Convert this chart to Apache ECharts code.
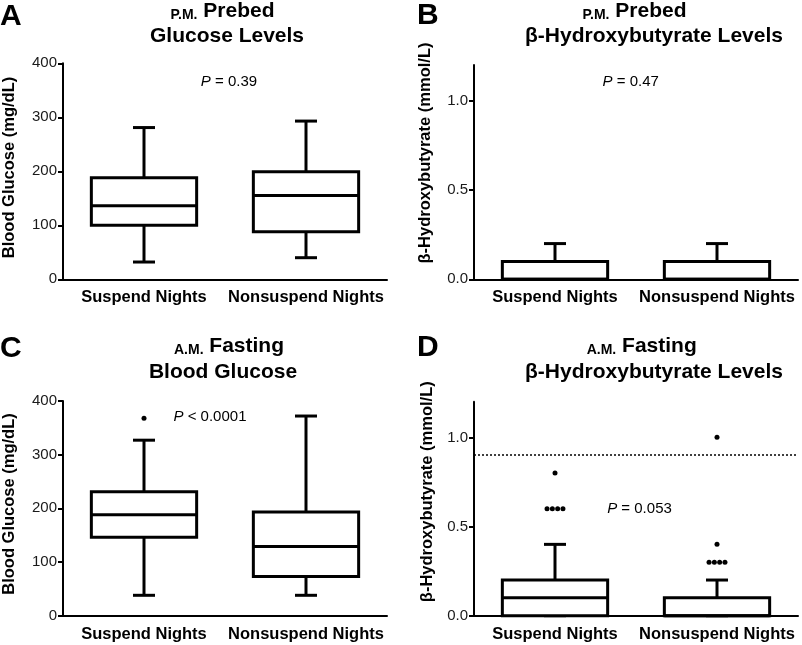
<!DOCTYPE html>
<html><head><meta charset="utf-8">
<script src="https://cdn.jsdelivr.net/npm/echarts@6/dist/echarts.min.js"></script>
<style>html,body{margin:0;padding:0;background:#fff}#c{width:802px;height:645px}</style>
</head><body><div id="c"></div>
<script>
// ---- data ----
const categories = ['Suspend Nights', 'Nonsuspend Nights'];
// each box: [min, Q1, median, Q3, max]
const boxA = [[32, 100, 136, 188, 281], [40, 88, 155, 199, 293]];
const boxB = [[0, 0, 0, 0.1, 0.2], [0, 0, 0, 0.1, 0.2]];
const boxC = [[38, 146, 188, 231, 327], [38, 73, 129, 193, 372]];
const boxD = [[0, 0, 0.1, 0.2, 0.4], [0, 0, 0, 0.1, 0.2]];
const outliersC = [[368], []];
const outliersD = [[0.8, 0.6, 0.6, 0.6, 0.6], [1.0, 0.4, 0.3, 0.3, 0.3, 0.3]];
const glucoseTicks = [0, 100, 200, 300, 400];
const bhbTicks = [0, 0.5, 1.0];
const thresholdD = 0.9;
const pLabels = ['= 0.39', '= 0.47', '< 0.0001', '= 0.053'];

const FF = '"Liberation Sans", Arial, Helvetica, sans-serif';
const grids = [
  {left: 63, top: 63.3, width: 324, height: 216},
  {left: 474, top: 65, width: 324, height: 214.3},
  {left: 63, top: 401, width: 324, height: 214.7},
  {left: 474, top: 401.7, width: 324, height: 214}
].map(g => Object.assign({outerBoundsMode: 'none', containLabel: false}, g));

function xAxisFor(i) {
  return {
    type: 'category', gridIndex: i, data: categories,
    axisLine: {lineStyle: {color: '#000', width: 2}},
    axisTick: {alignWithLabel: true, interval: 0, length: 5, lineStyle: {color: '#000', width: 2}},
    axisLabel: {color: '#000', fontSize: 16.5, fontWeight: 'bold', fontFamily: FF, margin: 10,
      interval: 0, hideOverlap: false},
    splitLine: {show: false}
  };
}
function yAxisFor(i, glucose) {
  const ticks = glucose ? glucoseTicks : bhbTicks;
  return {
    type: 'value', gridIndex: i, min: 0, max: glucose ? 400 : 1.2,
    axisLine: {show: true, lineStyle: {color: '#000', width: 2}},
    axisTick: {show: true, length: 5, lineStyle: {color: '#000', width: 2}, customValues: ticks},
    axisLabel: {color: '#1a1a1a', fontSize: 15, fontFamily: FF, margin: 6, customValues: ticks,
      formatter: v => glucose ? String(v) : v.toFixed(1)},
    splitLine: {show: false}
  };
}

function boxRender(params, api) {
  const c = api.value(0);
  const pts = [1, 2, 3, 4, 5].map(k => api.coord([c, api.value(k)]));
  const cx = pts[0][0];
  const y = pts.map(p => p[1]);
  const bw = api.size([1, 0])[0] * 0.65;
  const cap = 22;
  const st = {stroke: '#000', lineWidth: 3, fill: 'none'};
  const L = (x1, y1, x2, y2) => ({type: 'line', shape: {x1, y1, x2, y2}, style: st});
  return {type: 'group', children: [
    L(cx, y[3], cx, y[4]), L(cx - cap / 2, y[4], cx + cap / 2, y[4]),
    L(cx, y[1], cx, y[0]), L(cx - cap / 2, y[0], cx + cap / 2, y[0]),
    {type: 'rect', shape: {x: cx - bw / 2, y: y[3], width: bw, height: y[1] - y[3]},
      style: {stroke: '#000', lineWidth: 3, fill: '#fff'}},
    L(cx - bw / 2, y[2], cx + bw / 2, y[2])
  ]};
}
function boxSeries(i, boxes) {
  return {
    type: 'custom', xAxisIndex: i, yAxisIndex: i, renderItem: boxRender,
    encode: {x: 0, y: [1, 2, 3, 4, 5]},
    data: boxes.map((b, k) => [k].concat(b)), z: 2
  };
}
function outlierSeries(i, groups, extra) {
  const data = [];
  const gap = 5.3;
  groups.forEach((vals, k) => {
    const counts = {};
    vals.forEach(v => { counts[v] = (counts[v] || 0) + 1; });
    const seen = {};
    vals.forEach(v => {
      const n = counts[v];
      const idx = seen[v] || 0; seen[v] = idx + 1;
      data.push({value: [k, v], symbolOffset: [(idx - (n - 1) / 2) * gap, 0]});
    });
  });
  return Object.assign({
    type: 'scatter', xAxisIndex: i, yAxisIndex: i, symbol: 'circle', symbolSize: 5,
    itemStyle: {color: '#000', opacity: 1}, data: data, z: 3, silent: true
  }, extra || {});
}

function txt(x, y, text, size, weight, extra) {
  return Object.assign({type: 'text', x: x, y: y, style: {
    text: text, fontSize: size, fontWeight: weight || 'normal', fontFamily: FF, fill: '#000',
    align: 'center', verticalAlign: 'middle'
  }}, extra || {});
}
function richTitle(x, y, sc, rest) {
  return {type: 'text', x: x, y: y, style: {
    text: '{sc|' + sc + '} ' + rest, fontSize: 21, fontWeight: 'bold', fontFamily: FF, fill: '#000',
    align: 'center', verticalAlign: 'middle',
    rich: {sc: {fontSize: 14, fontWeight: 'bold', fontFamily: FF, fill: '#000', verticalAlign: 'bottom'}}
  }};
}
function pText(x, y, val) {
  return {type: 'text', x: x, y: y, style: {
    text: '{i|P} ' + val, fontSize: 15, fontFamily: FF, fill: '#000',
    align: 'center', verticalAlign: 'middle',
    rich: {i: {fontSize: 15, fontStyle: 'italic', fontFamily: FF, fill: '#000'}}
  }};
}
function panelLabel(x, y, t) {
  return {type: 'text', x: x, y: y, style: {text: t, fontSize: 30, fontWeight: 'bold', fontFamily: FF,
    fill: '#000', align: 'left', verticalAlign: 'top'}};
}

const graphics = [
  panelLabel(0, 2, 'A'), panelLabel(417, 1, 'B'), panelLabel(0, 334, 'C'), panelLabel(417, 333, 'D'),
  richTitle(222.5, 11.5, 'P.M.', 'Prebed'),
  txt(227, 36.5, 'Glucose Levels', 21, 'bold'),
  richTitle(634.5, 11.5, 'P.M.', 'Prebed'),
  txt(654, 36.5, 'β-Hydroxybutyrate Levels', 21, 'bold'),
  richTitle(229, 346.5, 'A.M.', 'Fasting'),
  txt(223, 372, 'Blood Glucose', 21, 'bold'),
  richTitle(641.7, 346.5, 'A.M.', 'Fasting'),
  txt(654, 372, 'β-Hydroxybutyrate Levels', 21, 'bold'),
  txt(9, 167.5, 'Blood Glucose (mg/dL)', 16.5, 'bold', {rotation: Math.PI / 2}),
  txt(425.5, 153, 'β-Hydroxybutyrate (mmol/L)', 16.5, 'bold', {rotation: Math.PI / 2}),
  txt(9, 504, 'Blood Glucose (mg/dL)', 16.5, 'bold', {rotation: Math.PI / 2}),
  txt(427, 491.7, 'β-Hydroxybutyrate (mmol/L)', 16.5, 'bold', {rotation: Math.PI / 2}),
  pText(229, 81.5, pLabels[0]),
  pText(630.7, 81.5, pLabels[1]),
  pText(210, 416.5, pLabels[2]),
  pText(639.5, 508.5, pLabels[3])
];

const chart = echarts.init(document.getElementById('c'), null, {renderer: 'canvas'});
chart.setOption({
  backgroundColor: '#fff',
  animation: false,
  grid: grids,
  xAxis: [0, 1, 2, 3].map(xAxisFor),
  yAxis: [yAxisFor(0, true), yAxisFor(1, false), yAxisFor(2, true), yAxisFor(3, false)],
  series: [
    boxSeries(0, boxA), boxSeries(1, boxB), boxSeries(2, boxC), boxSeries(3, boxD),
    outlierSeries(2, outliersC),
    outlierSeries(3, outliersD, {
      markLine: {silent: true, symbol: ['none', 'none'], label: {show: false},
        lineStyle: {color: '#000', type: [2, 2], width: 1.5},
        data: [{yAxis: thresholdD}]}
    })
  ],
  graphic: graphics
});
</script></body></html>
